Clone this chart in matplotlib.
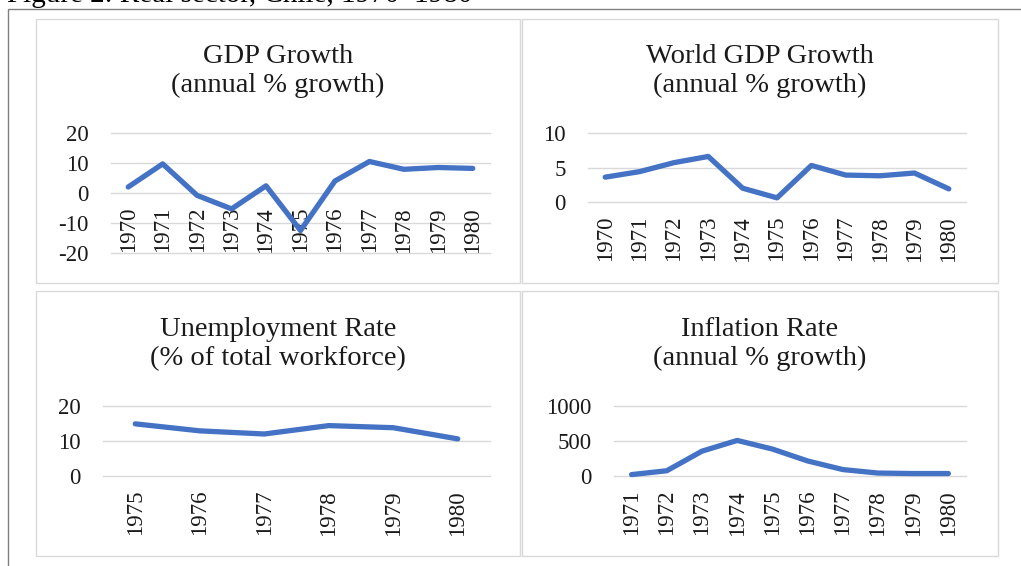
import matplotlib
matplotlib.use("Agg")
import matplotlib.pyplot as plt
from matplotlib.patches import Rectangle

plt.rcParams['font.family'] = ['Liberation Serif', 'DejaVu Serif']
plt.rcParams['axes.unicode_minus'] = False

# data
gdp_years = ['1970', '1971', '1972', '1973', '1974', '1975', '1976', '1977', '1978', '1979', '1980']
gdp_growth = [2.0, 9.7, -0.8, -5.3, 2.4, -12.5, 4.0, 10.5, 7.9, 8.5, 8.2]

world_years = ['1970', '1971', '1972', '1973', '1974', '1975', '1976', '1977', '1978', '1979', '1980']
world_growth = [3.6, 4.4, 5.7, 6.6, 2.0, 0.6, 5.3, 3.9, 3.8, 4.2, 1.9]

unemp_years = ['1975', '1976', '1977', '1978', '1979', '1980']
unemp_rate = [14.9, 12.9, 12.0, 14.4, 13.8, 10.6]

infl_years = ['1971', '1972', '1973', '1974', '1975', '1976', '1977', '1978', '1979', '1980']
infl_rate = [20, 75, 355, 508, 385, 215, 92, 42, 35, 35]

W, H = 1021, 566
fig = plt.figure(figsize=(W / 100, H / 100), dpi=100)

LINE = '#4472C4'
GRID = '#D9D9D9'
TEXT = '#1a1a1a'


def px_rect(x0, y0, x1, y1):
    # pixel box (top-left origin) -> figure fraction [l, b, w, h]
    return [x0 / W, 1 - y1 / H, (x1 - x0) / W, (y1 - y0) / H]


# outer frame and caption (cut off at the top like the scan)
fig.patches.append(Rectangle((8 / W, -0.1), 1.2, 1 - 9 / H + 0.1, transform=fig.transFigure,
                             fill=False, edgecolor='#808080', linewidth=1.0))
fig.text(7 / W, 1 - 2 / H, 'Figure 2: Real sector, Chile, 1970\u20131980', fontsize=21,
         va='baseline', ha='left', color='black')

panels = [
    # panel box, axes box, title, title y, data
    ((36, 19, 520, 283), (111, 133, 490, 253), 'GDP Growth\n(annual % growth)', 71,
     gdp_years, gdp_growth, (-20, 20), [-20, -10, 0, 10, 20]),
    ((522, 19, 998, 283), (588, 133, 966, 202), 'World GDP Growth\n(annual % growth)', 71,
     world_years, world_growth, (0, 10), [0, 5, 10]),
    ((36, 291, 520, 556), (103, 406, 490, 476), 'Unemployment Rate\n(% of total workforce)', 344,
     unemp_years, unemp_rate, (0, 20), [0, 10, 20]),
    ((522, 291, 998, 556), (614, 406, 966, 476), 'Inflation Rate\n(annual % growth)', 344,
     infl_years, infl_rate, (0, 1000), [0, 500, 1000]),
]

for box, axbox, title, ty, years, vals, ylim, yticks in panels:
    x0, y0, x1, y1 = box
    fig.patches.append(Rectangle((x0 / W, 1 - y1 / H), (x1 - x0) / W, (y1 - y0) / H,
                                 transform=fig.transFigure, fill=False,
                                 edgecolor=GRID, linewidth=1.0))
    fig.text((x0 + x1) / 2 / W, 1 - ty / H, title, fontsize=20.5, ha='center', va='center',
             linespacing=1.22, color=TEXT)

    ax = fig.add_axes(px_rect(*axbox))
    ax.set_facecolor('none')
    for s in ax.spines.values():
        s.set_visible(False)
    # category labels hang from the zero line, as in Excel
    ax.spines['bottom'].set_position(('data', 0))

    pos = list(range(len(years)))
    ax.plot(pos, vals, color=LINE, linewidth=3.8, solid_capstyle='round',
            solid_joinstyle='round', zorder=3, clip_on=False)
    for yv in yticks:
        ax.axhline(yv, color=GRID, linewidth=1.0, zorder=1, clip_on=False)
    ax.set_xlim(-0.5, len(years) - 0.5)
    ax.set_ylim(*ylim)
    ax.set_yticks(yticks)
    ax.set_xticks(pos)
    ax.set_xticklabels(years, rotation=90)
    ax.tick_params(axis='x', length=0, pad=10, labelsize=16.5, colors=TEXT)
    ax.tick_params(axis='y', length=0, pad=16, labelsize=16.5, colors=TEXT)

fig.savefig('out.png', dpi=100)
